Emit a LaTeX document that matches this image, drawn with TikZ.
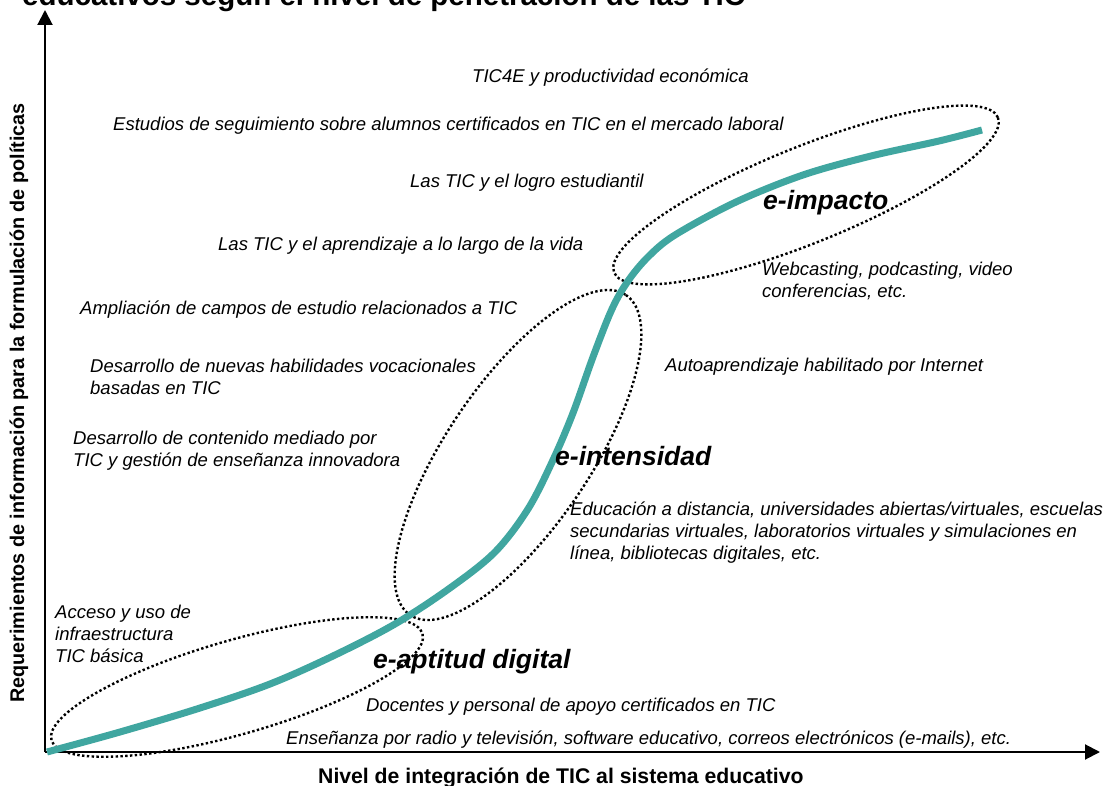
\documentclass[tikz,border=0pt]{standalone}
\usepackage{fontspec}
\setmainfont{Liberation Sans}
\usetikzlibrary{arrows.meta}
\definecolor{tealcurve}{RGB}{64,166,160}
\begin{document}
\begin{tikzpicture}[x=1pt,y=-1pt,
  lbl/.style={font=\fontsize{18.5}{22}\selectfont\itshape, inner sep=0pt, anchor=base west, align=left},
  stage/.style={font=\fontsize{26.5}{30}\selectfont\bfseries\itshape, inner sep=0pt, anchor=base west},
  axisline/.style={line width=2pt, -{Triangle[length=15pt,width=15pt]}},
  zone/.style={line width=2.4pt, dash pattern=on 2.4pt off 2.4pt},
  curve/.style={line width=7pt, color=tealcurve}]
\useasboundingbox (0,0) rectangle (1109,786);

% title (cut off at the top)
\node[anchor=base west, inner sep=0pt, font=\fontsize{29.5}{32}\selectfont\bfseries] (title) at (22,6) {educativos según el nivel de penetración de las TIC};

% axes
\coordinate (O) at (45,752);
\coordinate (ytip) at (45,10);
\coordinate (xtip) at (1100,752);
\draw[axisline] (O) -- (ytip);
\draw[axisline] (O) -- (xtip);

\node[inner sep=0pt, rotate=90, font=\fontsize{19.8}{24}\selectfont\bfseries] (ylab) at (19,403) {Requerimientos de información para la formulación de políticas};
\node[inner sep=0pt, anchor=base west, font=\fontsize{21.2}{24}\selectfont\bfseries] (xlab) at (318,783) {Nivel de integración de TIC al sistema educativo};

% zones
\draw[zone, rotate around={16:(237,687)}] (237,687) ellipse [x radius=193, y radius=47];
\draw[zone, rotate around={56:(518,455)}] (518,455) ellipse [x radius=193, y radius=72];
\draw[zone, rotate around={22:(806,195)}] (806,195) ellipse [x radius=207, y radius=48];

% curve
\draw[curve] plot[smooth, tension=0.55] coordinates {(47,752) (120,732) (200,708) (270,684) (333,656) (395,624) (450,588) (495,552) (528,509) (553,460) (573,413) (593,357) (612,309) (628,281) (648,257) (675,235) (736,202) (803,175) (871,156) (939,141) (982,130)};

% stage labels
\node[stage] (eimp) at (763,210) {e-impacto};
\node[stage] (eint) at (555,465) {e-intensidad};
\node[stage] (eapt) at (373,668) {e-aptitud digital};

% texts (base = baseline of the last line)
\node[lbl] (t1) at (472,83) {TIC4E y productividad económica};
\node[lbl] (t2) at (113,131) {Estudios de seguimiento sobre alumnos certificados en TIC en el mercado laboral};
\node[lbl] (t3) at (410,188) {Las TIC y el logro estudiantil};
\node[lbl] (t4) at (218,251) {Las TIC y el aprendizaje a lo largo de la vida};
\node[lbl] (t5) at (762,298) {Webcasting, podcasting, video\\conferencias, etc.};
\node[lbl] (t6) at (80,315) {Ampliación de campos de estudio relacionados a TIC};
\node[lbl] (t7) at (665,372) {Autoaprendizaje habilitado por Internet};
\node[lbl] (t8) at (90,395) {Desarrollo de nuevas habilidades vocacionales\\basadas en TIC};
\node[lbl] (t9) at (73,466) {Desarrollo de contenido mediado por\\TIC y gestión de enseñanza innovadora};
\node[lbl] (t10) at (570,559) {Educación a distancia, universidades abiertas/virtuales, escuelas\\secundarias virtuales, laboratorios virtuales y simulaciones en\\línea, bibliotecas digitales, etc.};
\node[lbl] (t11) at (55,662) {Acceso y uso de\\infraestructura\\TIC básica};
\node[lbl] (t12) at (366,711) {Docentes y personal de apoyo certificados en TIC};
\node[lbl] (t13) at (286,744) {Enseñanza por radio y televisión, software educativo, correos electrónicos (e-mails), etc.};
\end{tikzpicture}
\end{document}
